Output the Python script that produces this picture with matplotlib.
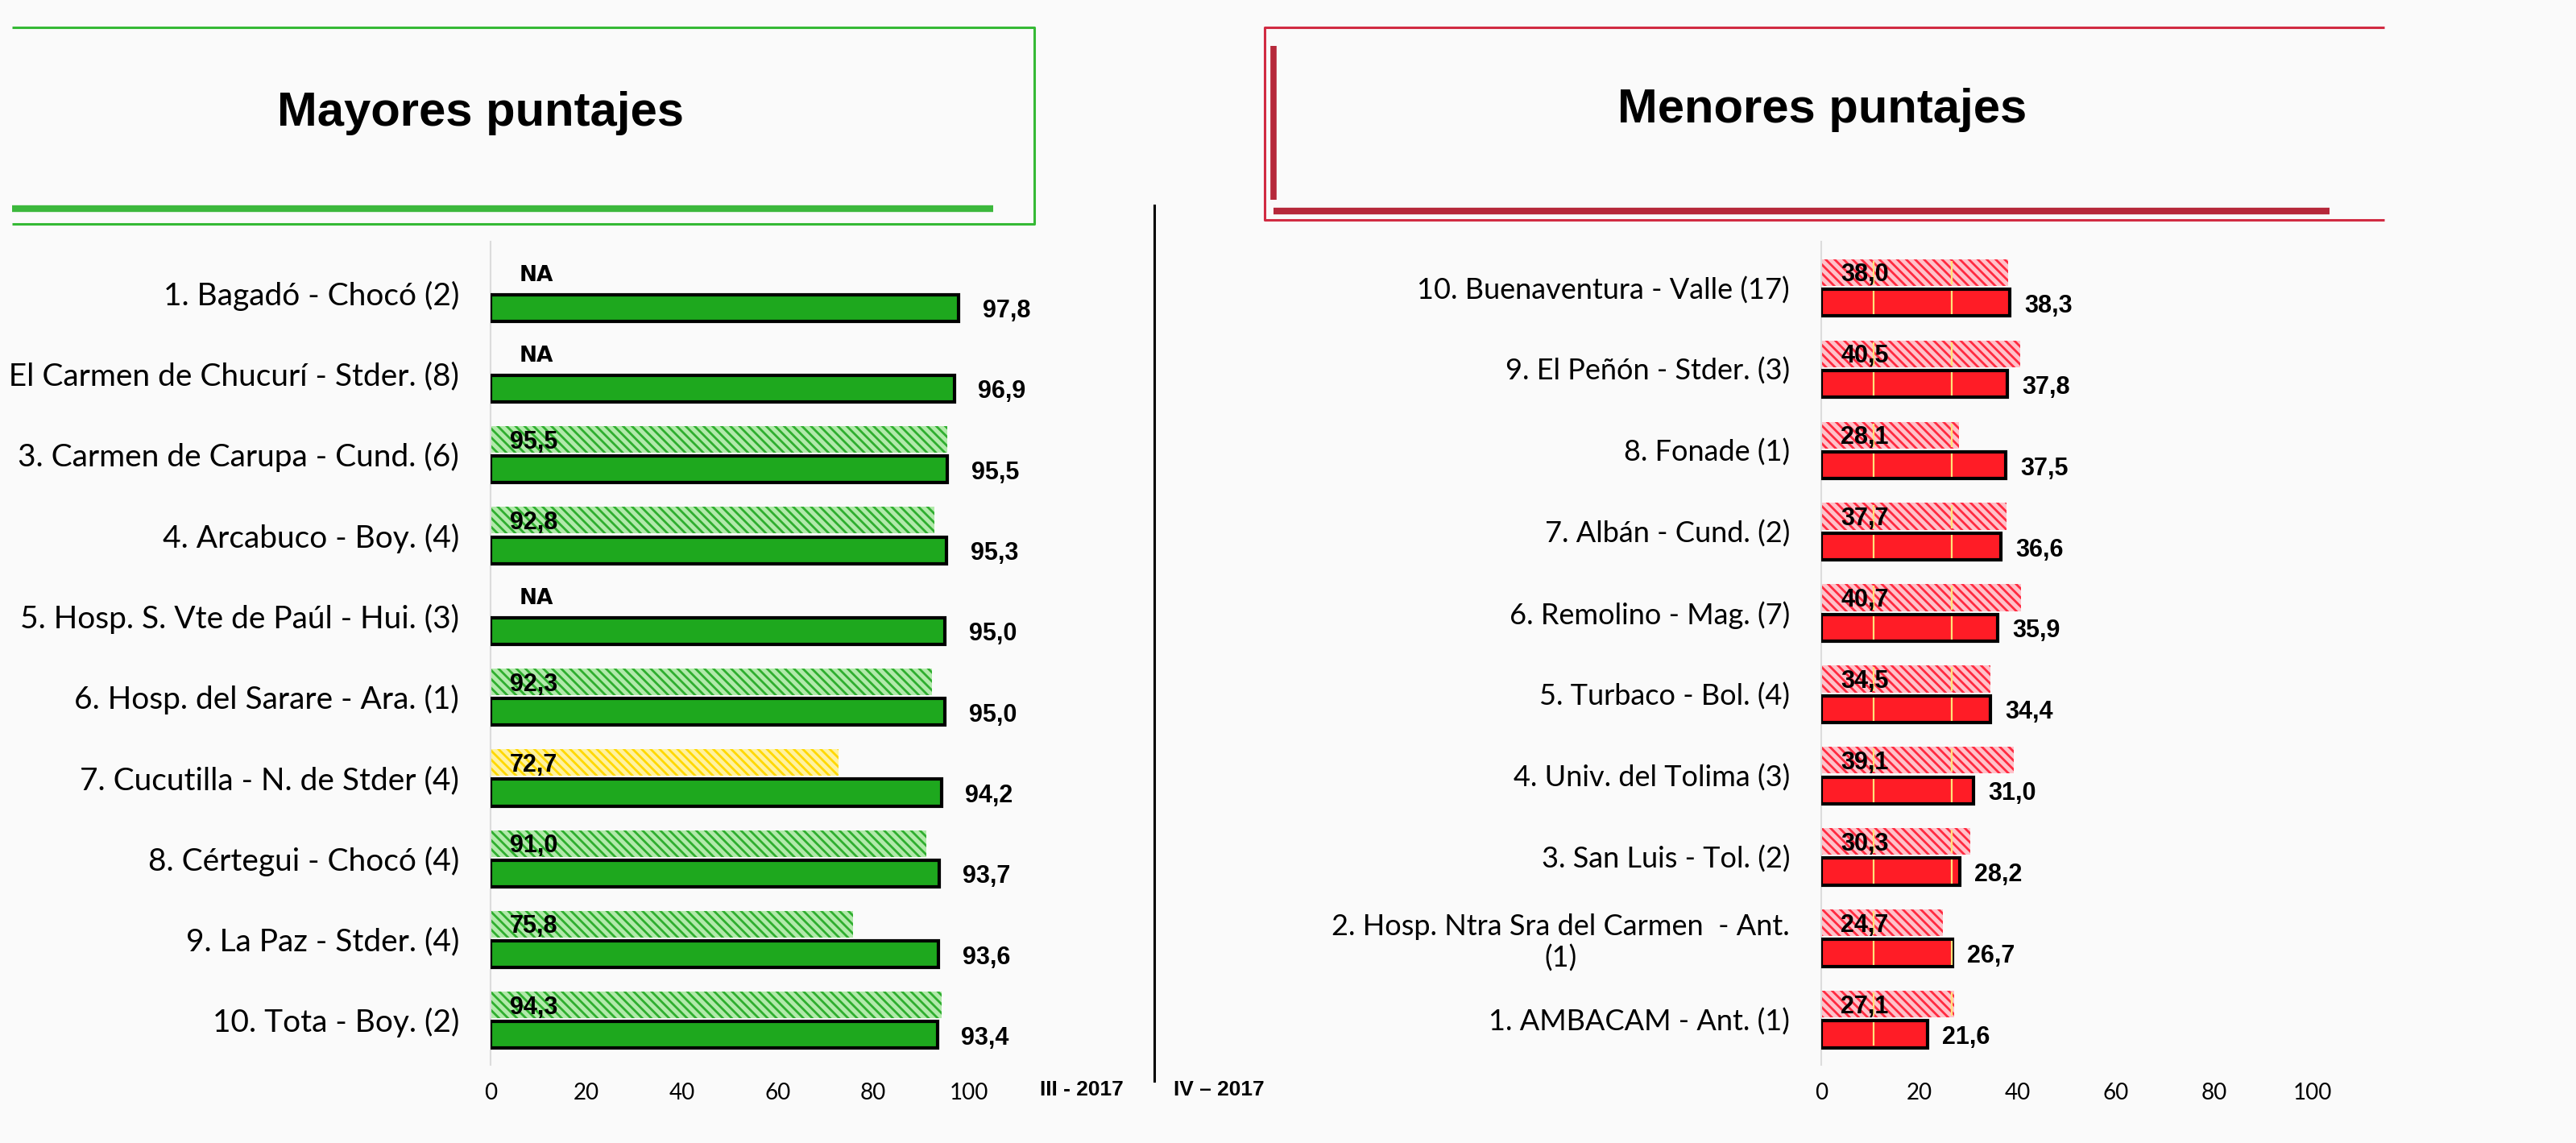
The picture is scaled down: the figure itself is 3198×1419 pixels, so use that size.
import matplotlib
matplotlib.use('Agg')
import matplotlib.pyplot as plt
from matplotlib.lines import Line2D
import numpy as np

W, H, DPI = 3198, 1419, 100

# ---------------- data ----------------
top_labels = ["1. Bagadó - Chocó (2)",
              "2. El Carmen de Chucurí - Stder. (8)",
              "3. Carmen de Carupa - Cund. (6)",
              "4. Arcabuco - Boy. (4)",
              "5. Hosp. S. Vte de Paúl - Hui. (3)",
              "6. Hosp. del Sarare - Ara. (1)",
              "7. Cucutilla - N. de Stder (4)",
              "8. Cértegui - Chocó (4)",
              "9. La Paz - Stder. (4)",
              "10. Tota - Boy. (2)"]
top_q3 = [None, None, 95.5, 92.8, None, 92.3, 72.7, 91.0, 75.8, 94.3]
top_q4 = [97.8, 96.9, 95.5, 95.3, 95.0, 95.0, 94.2, 93.7, 93.6, 93.4]

low_labels = ["10. Buenaventura - Valle (17)",
              "9. El Peñón - Stder. (3)",
              "8. Fonade (1)",
              "7. Albán - Cund. (2)",
              "6. Remolino - Mag. (7)",
              "5. Turbaco - Bol. (4)",
              "4. Univ. del Tolima (3)",
              "3. San Luis - Tol. (2)",
              "2. Hosp. Ntra Sra del Carmen  - Ant.\n(1)",
              "1. AMBACAM - Ant. (1)"]
low_q3 = [38.0, 40.5, 28.1, 37.7, 40.7, 34.5, 39.1, 30.3, 24.7, 27.1]
low_q4 = [38.3, 37.8, 37.5, 36.6, 35.9, 34.4, 31.0, 28.2, 26.7, 21.6]

xticks = [0, 20, 40, 60, 80, 100]
period_labels = ["III - 2017", "IV – 2017"]
titles = ["Mayores puntajes", "Menores puntajes"]
na_text = "NA"

# ---------------- style ----------------
LABEL_FONT = ['Lato', 'DejaVu Sans']
BOLD_FONT = ['Liberation Sans Narrow', 'Liberation Sans', 'DejaVu Sans']
plt.rcParams['hatch.linewidth'] = 2.0

def palette(v):
    if v >= 75:
        return dict(solid='#1ea81e', light='#b2eaab', stripe='#2fae2f')
    if v >= 50:
        return dict(solid='#f2d930', light='#fff2a0', stripe='#ffd800')
    return dict(solid='#ff1c26', light='#ffc2ca', stripe='#ff2a40')

def fmt(v):
    return f"{v:.1f}".replace('.', ',')

fig = plt.figure(figsize=(W / DPI, H / DPI), dpi=DPI)
fig.patch.set_facecolor('#fafafa')

def fx(px):
    return px / W

def fy(py):
    return 1 - py / H

def fline(xs, ys, **kw):
    fig.add_artist(Line2D([fx(x) for x in xs], [fy(y) for y in ys], **kw))

# ---------------- title boxes ----------------
g_thin, g_thick = '#35b935', '#3cb83c'
fline([15, 1284, 1284, 15], [34, 34, 278, 278], color=g_thin, lw=2.2, solid_capstyle='butt')
fline([15, 1233], [259, 259], color=g_thick, lw=6, solid_capstyle='butt')
fig.text(fx(597), fy(140), titles[0], ha='center', va='center', fontsize=43,
         fontweight='bold', family=BOLD_FONT, color='black')

r_thin, r_thick = '#d12b42', '#b6283a'
fline([2960, 1570, 1570, 2960], [34, 34, 273, 273], color=r_thin, lw=2.2, solid_capstyle='butt')
fline([1581, 1581], [57, 248], color=r_thick, lw=5.5, solid_capstyle='butt')
fline([1581, 2892], [262, 262], color=r_thick, lw=6, solid_capstyle='butt')
fig.text(fx(2262), fy(137), titles[1], ha='center', va='center', fontsize=43,
         fontweight='bold', family=BOLD_FONT, color='black')

# divider
fline([1433, 1433], [255, 1342], color='black', lw=2.2)

# ---------------- panels ----------------
OFF, BH = 0.185, 0.33

def panel(rect_px, ylim, labels, q3, q4, gap, label_size, streaks=None):
    l, t, r, b = rect_px
    ax = fig.add_axes([fx(l), fy(b), (r - l) / W, (b - t) / H])
    ax.set_facecolor('none')
    y = np.arange(len(labels))
    for i in range(len(labels)):
        v3, v4 = q3[i], q4[i]
        if v3 is not None:
            p = palette(v3)
            ax.barh(i - OFF, v3, height=BH, color=p['light'], edgecolor=p['stripe'],
                    lw=0, hatch='\\\\\\', zorder=2)
            ax.text(4, i - OFF + 0.03, fmt(v3), ha='left', va='center', fontsize=22,
                    fontweight='bold', family=BOLD_FONT, zorder=5)
        else:
            ax.text(6, i - OFF - 0.03, na_text, ha='left', va='center', fontsize=19,
                    fontweight='bold', family=['DejaVu Sans'], zorder=5)
        p = palette(v4)
        ax.barh(i + OFF, v4, height=BH, color=p['solid'], edgecolor='black',
                lw=3.0, zorder=3)
        ax.text(v4 + gap, i + OFF + 0.04, fmt(v4), ha='left', va='center', fontsize=22,
                fontweight='bold', family=BOLD_FONT, zorder=5, clip_on=False)
        if streaks:
            for sx in streaks:
                for yy, vv in ((i - OFF, v3), (i + OFF, v4)):
                    if vv is not None and vv > sx:
                        ax.vlines(sx, yy - BH / 2 + 0.02, yy + BH / 2 - 0.02,
                                  color='#ffe27a', lw=1.6, zorder=4)
    ax.set_xlim(0, 100)
    ax.set_ylim(*ylim)
    ax.set_xticks(xticks)
    ax.set_xticklabels([str(v) for v in xticks], fontsize=20, family=LABEL_FONT)
    ax.set_yticks(y)
    ax.set_yticklabels(labels, fontsize=label_size, family=LABEL_FONT)
    for tl in ax.get_yticklabels():
        tl.set_multialignment('center')
        tl.set_linespacing(1.2)
    ax.tick_params(axis='both', length=0)
    ax.tick_params(axis='x', pad=16)
    ax.tick_params(axis='y', pad=28)
    for s in ('top', 'right', 'bottom'):
        ax.spines[s].set_visible(False)
    ax.spines['left'].set_color('#dcdcdc')
    ax.spines['left'].set_linewidth(1.5)
    return ax

axL = panel((609, 300, 1203, 1322), (9.555, -0.634), top_labels, top_q3, top_q4, 5.0, 28)
axR = panel((2261, 300, 2871, 1322), (9.563, -0.566), low_labels, low_q3, low_q4, 3.0, 26,
            streaks=[10.7, 26.6])

fig.text(fx(1343), fy(1353), period_labels[0], ha='center', va='center', fontsize=19,
         fontweight='bold', family=BOLD_FONT)
fig.text(fx(1513), fy(1353), period_labels[1], ha='center', va='center', fontsize=19,
         fontweight='bold', family=BOLD_FONT)

fig.savefig('out.png', dpi=DPI, facecolor=fig.get_facecolor())
